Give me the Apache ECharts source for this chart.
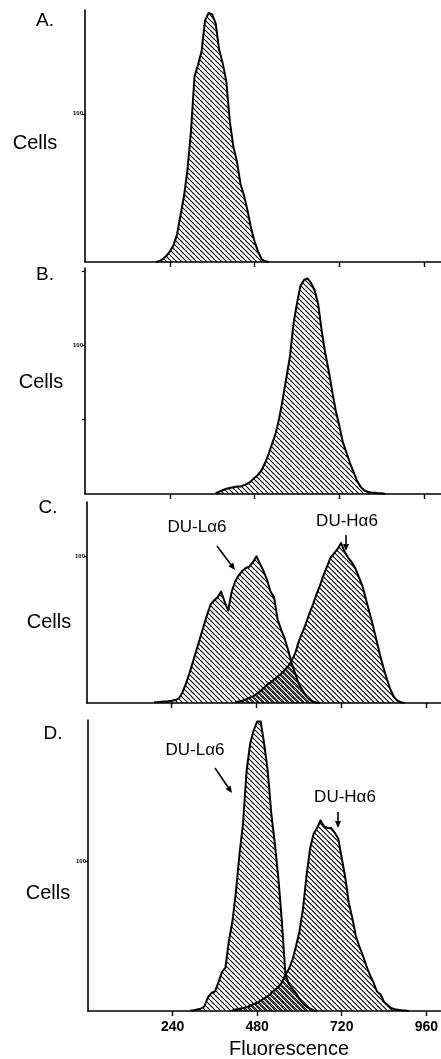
<!DOCTYPE html>
<html><head><meta charset="utf-8">
<script src="https://cdn.jsdelivr.net/npm/echarts@6/dist/echarts.min.js"></script>
<style>html,body{margin:0;padding:0;background:#fff}#c{width:441px;height:1059px}</style>
</head><body><div id="c"></div>
<script>
// ---- data ----
const binWidth = 10;
const xTickValues = [240, 480, 720, 960];
const xTickLabels = ['240', '480', '720', '960'];
const yTickLabel = ['100'];
const panelLetters = ['A.', 'B.', 'C.', 'D.'];
const yName = 'Cells';
const xName = 'Fluorescence';
const lowLabel = 'DU-L\u03b16';
const highLabel = 'DU-H\u03b16';

const aStart = 200;
const aCounts = [0,0.5,2,4,7,11,18,31,44,62,88,125,133,142,163,168,167,161,143,134,122,95,78,68,53,45,35,23,14,7,2,0.5,0];

const bStart = 370;
const bCounts = [0.5,1.5,2.5,3.5,4,4.5,5,5,6,7,8.5,11,13,16,21,27,34,41,51,64,78,92,114,128,140,144,145,142,137,128,110,95,83,69,56,46,35,28,21,15,9,5,2.5,1.5,1,0.8,0.5,0.5,0];

const cLowStart = 190;
const cLowCounts = [0.5,0.5,0.8,1,1.2,1.5,2,3,7,13,20,28,36,44,52,60,67,70,72,76,69,63,76,83,87,90,92,93,96,100,95,90,84,76,72,57,50,44,36,27,20,13,9,5,2.5,1,0.3,0];

const cHighStart = 420;
const cHighCounts = [0.5,1,1.5,2.5,3.5,4.5,6,8,10,12.5,14,16,18,20,22.5,25,29,34,42,48,54,61,67,74,80,87,93,99,102,105,109,103,99,96,92,86,80,71,62,53,43,33,24,16,9,4,1.5,0.5,0];

const dLowStart = 290;
const dLowCounts = [0.3,0.5,1,1.5,3,9,12,13,19,26,29,47,60,80,105,125,160,178,187,193,193,178,160,132,112,89,60,25,18,15,12,8,5,3,1.5,0.5,0];

const dHighStart = 410;
const dHighCounts = [0.5,1,1.5,2,2.5,3.5,4.5,5.5,7,8.5,10,12,14,16,19,24,28,34,43,53,68,90,108,118,122,127,123,122,122,119,115,102,89,72,62,50,43,37,30,24,19,13,11,6,4,2,1.2,0.8,0.5,0.3,0];

// ---- chart ----
const FONT = 'Liberation Sans, Arial, Helvetica, sans-serif';
function hatch(off) {
  const s = 5;
  const c = document.createElement('canvas');
  c.width = s; c.height = s;
  const g = c.getContext('2d');
  g.strokeStyle = '#000'; g.lineWidth = 1.1;
  g.beginPath();
  for (const k of [-s, 0, s]) { g.moveTo(k + off, 0); g.lineTo(k + off + s, s); }
  g.stroke();
  return c;
}
const patA = hatch(0), patB = hatch(1.7);
const pairs = (start, arr) => arr.map((v, i) => [start + i * binWidth, v]);

const panels = [
  { grid: {left: 85, top: 10, height: 252}, xMax: 1008, yMax: 170, yTicks: [100],
    series: [[aStart, aCounts, patA]] },
  { grid: {left: 85, top: 268, height: 226}, xMax: 1008, yMax: 152, yTicks: [50, 100, 150],
    series: [[bStart, bCounts, patA]] },
  { grid: {left: 87, top: 502, height: 201}, xMax: 1003, yMax: 137, yTicks: [100],
    series: [[cLowStart, cLowCounts, patA], [cHighStart, cHighCounts, patB]] },
  { grid: {left: 88, top: 720, height: 291}, xMax: 1000, yMax: 194, yTicks: [100],
    series: [[dLowStart, dLowCounts, patA], [dHighStart, dHighCounts, patB]] }
];

const grids = [], xAxes = [], yAxes = [], series = [];
panels.forEach((p, i) => {
  grids.push(Object.assign({right: 0}, p.grid));
  xAxes.push({
    type: 'value', gridIndex: i, min: 0, max: p.xMax,
    axisLine: {lineStyle: {color: '#000', width: 1.6}},
    axisTick: {show: true, customValues: xTickValues, length: 5, lineStyle: {color: '#000', width: 1.4}},
    axisLabel: {show: i === 3, customValues: xTickValues,
      formatter: v => xTickLabels[xTickValues.indexOf(v)] || '',
      color: '#000', fontSize: 14, fontWeight: 'bold', fontFamily: FONT, margin: 9},
    splitLine: {show: false}
  });
  yAxes.push({
    type: 'value', gridIndex: i, min: 0, max: p.yMax,
    axisLine: {lineStyle: {color: '#000', width: 1.6}},
    axisTick: {show: true, customValues: p.yTicks, length: 3, lineStyle: {color: '#000', width: 1.2}},
    axisLabel: {show: true, customValues: [100], formatter: () => yTickLabel[0],
      color: '#000', fontSize: 6, fontWeight: 'bold', fontFamily: FONT, margin: 2},
    splitLine: {show: false}
  });
  p.series.forEach(([start, counts, pat]) => {
    series.push({
      type: 'line', xAxisIndex: i, yAxisIndex: i, symbol: 'none',
      data: pairs(start, counts), clip: false, silent: true,
      lineStyle: {color: '#000', width: 2, join: 'round'},
      areaStyle: {color: {image: pat, repeat: 'repeat'}, opacity: 1}
    });
  });
});

function txt(text, x, y, size, extra) {
  return {type: 'text', x: x, y: y, style: Object.assign({text: text, fill: '#000',
    fontSize: size, fontFamily: FONT, align: 'center', verticalAlign: 'middle'}, extra || {})};
}
function arrow(x1, y1, x2, y2) {
  const a = Math.atan2(y2 - y1, x2 - x1), L = 7, W = 3;
  const bx = x2 - L * Math.cos(a), by = y2 - L * Math.sin(a);
  const px = -Math.sin(a) * W, py = Math.cos(a) * W;
  return [
    {type: 'line', shape: {x1: x1, y1: y1, x2: bx, y2: by}, style: {stroke: '#000', lineWidth: 1.6}},
    {type: 'polygon', shape: {points: [[x2, y2], [bx + px, by + py], [bx - px, by - py]]}, style: {fill: '#000'}}
  ];
}

const graphics = [
  txt(panelLetters[0], 45, 21, 19),
  txt(panelLetters[1], 45, 275, 19),
  txt(panelLetters[2], 48, 508, 19),
  txt(panelLetters[3], 53, 734, 19),
  txt(yName, 35, 143, 20),
  txt(yName, 41, 382, 20),
  txt(yName, 49, 622, 20),
  txt(yName, 48, 893, 20),
  txt(xName, 289, 1049, 20),
  txt(lowLabel, 197, 527, 17),
  txt(highLabel, 347, 521, 17),
  txt(lowLabel, 195, 750, 17),
  txt(highLabel, 345, 797, 17)
].concat(arrow(217, 546, 235, 570), arrow(346, 535, 346, 551),
          arrow(215, 768, 232, 793), arrow(338, 812, 338, 828));

const chart = echarts.init(document.getElementById('c'), null, {renderer: 'canvas', width: 441, height: 1059});
chart.setOption({
  animation: false,
  backgroundColor: '#fff',
  grid: grids, xAxis: xAxes, yAxis: yAxes, series: series,
  graphic: graphics
});
</script>
</body></html>
